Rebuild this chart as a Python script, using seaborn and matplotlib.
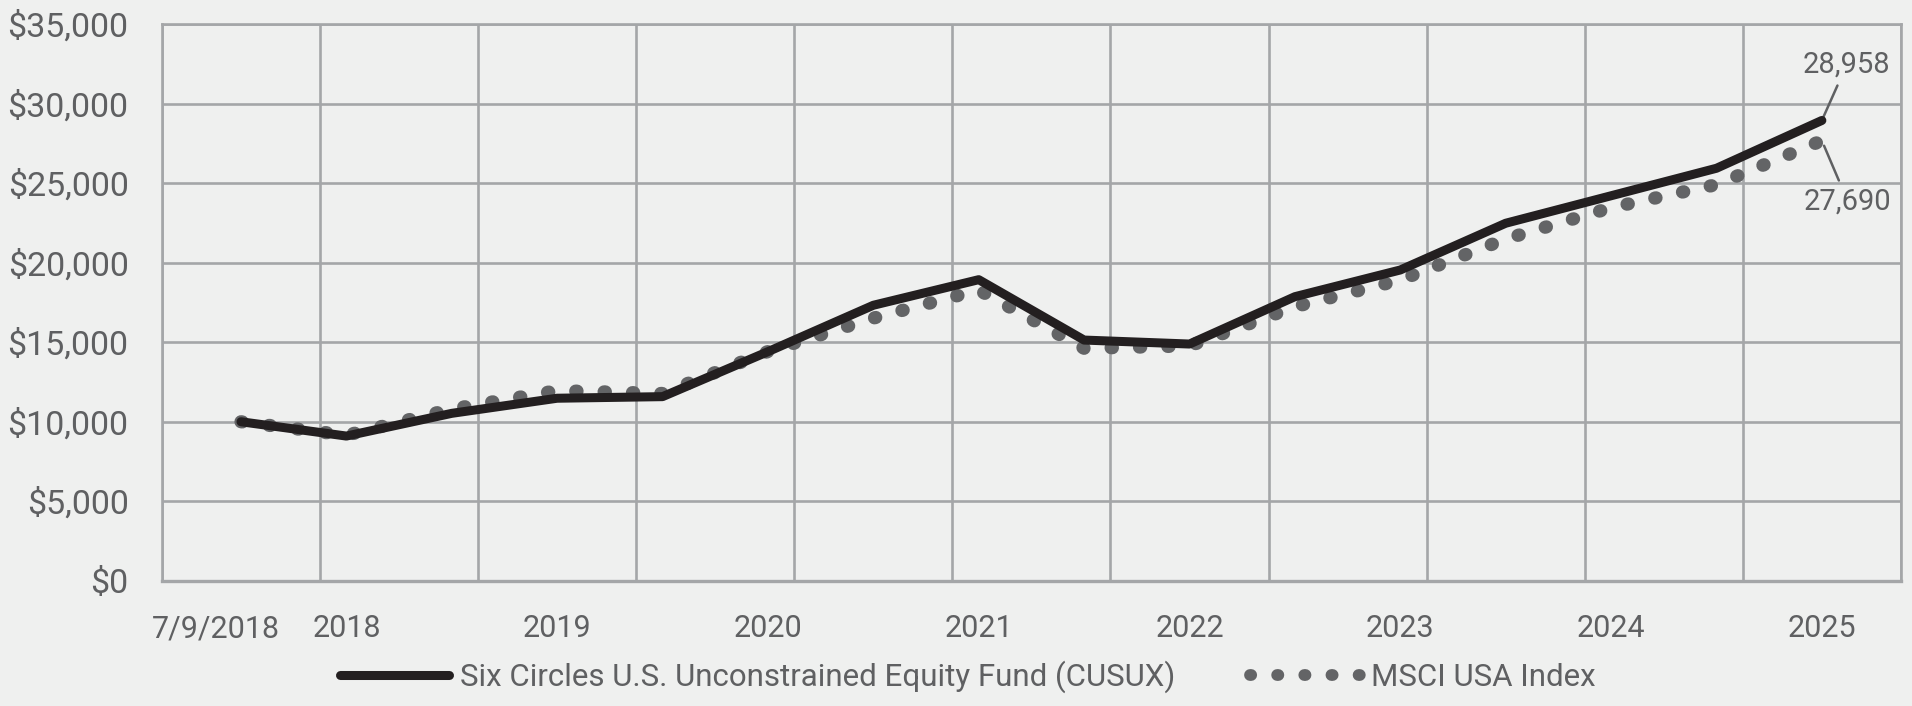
"""Growth of $10,000: Six Circles U.S. Unconstrained Equity Fund vs MSCI USA Index."""

import matplotlib.pyplot as plt
import matplotlib.transforms as mtransforms
import numpy as np
import pandas as pd
import seaborn as sns
from matplotlib.lines import Line2D
from matplotlib.ticker import FixedLocator, FuncFormatter

# semi-annual points, inception (7/9/2018) to 12/31/2025
periods = [
    "7/9/2018", "Dec 2018", "Jun 2019", "Dec 2019", "Jun 2020", "Dec 2020",
    "Jun 2021", "Dec 2021", "Jun 2022", "Dec 2022", "Jun 2023", "Dec 2023",
    "Jun 2024", "Dec 2024", "Jun 2025", "Dec 2025",
]
fund_values = [
    10000, 9100, 10530, 11480, 11580, 14410, 17330, 18940,
    15140, 14890, 17870, 19550, 22490, 24220, 25950, 28958,
]
index_values = [
    10000, 9150, 10800, 11960, 11780, 14420, 16520, 18290,
    14620, 14770, 17240, 18920, 21500, 23470, 24920, 27690,
]

# which periods carry an axis label, and the text shown
label_periods = [
    "7/9/2018", "Dec 2018", "Dec 2019", "Dec 2020", "Dec 2021",
    "Dec 2022", "Dec 2023", "Dec 2024", "Dec 2025",
]
label_texts = ["7/9/2018", "2018", "2019", "2020", "2021", "2022", "2023", "2024", "2025"]

FUND_NAME = "Six Circles U.S. Unconstrained Equity Fund (CUSUX)"
INDEX_NAME = "MSCI USA Index"

BG = "#eff0ef"
GRID = "#a4a6a8"
TEXT = "#5f6062"
FUND_COLOR = "#231f20"
INDEX_COLOR = "#636466"

sns.set_theme(style="white")
plt.rcParams["font.family"] = ["Roboto", "DejaVu Sans"]

df = pd.DataFrame({
    "period": periods,
    "pos": np.arange(len(periods)),
    "fund": fund_values,
    "index": index_values,
})

fig = plt.figure(figsize=(19.12, 7.06), dpi=100, facecolor=BG)
ax = fig.add_axes([0.0847, 0.1775, 0.9095, 0.7879])
ax.set_facecolor(BG)

# round dots: very short dashes with round caps
sns.lineplot(
    data=df, x="pos", y="index", ax=ax, color=INDEX_COLOR, linewidth=9.5,
    linestyle=(0, (0.1, 2.05)), dash_capstyle="round", legend=False, zorder=3,
)
sns.lineplot(
    data=df, x="pos", y="fund", ax=ax, color=FUND_COLOR, linewidth=6.5,
    solid_capstyle="round", solid_joinstyle="round", legend=False, zorder=4,
)

# axes limits and grid
ax.set_xlim(-0.75, len(periods) - 0.25)
ax.set_ylim(0, 35000)
ax.yaxis.set_major_locator(FixedLocator(np.arange(0, 35001, 5000)))
ax.yaxis.set_major_formatter(FuncFormatter(lambda v, _: f"${v:,.0f}"))
ax.xaxis.set_minor_locator(FixedLocator(np.linspace(-0.75, len(periods) - 0.25, 12)))
ax.set_xticks([periods.index(p) for p in label_periods])
ax.set_xticklabels(label_texts)

ax.grid(axis="y", which="major", color=GRID, linewidth=1.9)
ax.grid(axis="x", which="minor", color=GRID, linewidth=1.9)
ax.grid(axis="x", which="major", visible=False)
ax.tick_params(axis="both", which="both", length=0, labelcolor=TEXT)
ax.tick_params(axis="x", which="major", pad=24, labelsize=22)
ax.tick_params(axis="y", which="major", pad=24, labelsize=24.5)
for side, spine in ax.spines.items():
    spine.set_visible(True)
    spine.set_color(GRID)
    spine.set_linewidth(2.4 if side == "bottom" else 1.9)
ax.set_xlabel("")
ax.set_ylabel("")

# nudge the inception date label left, like the original
first = ax.get_xticklabels()[0]
first.set_transform(first.get_transform()
                    + mtransforms.ScaledTranslation(-0.25, 0, fig.dpi_scale_trans))

# end-value callouts
ax.annotate(
    f"{fund_values[-1]:,}", xy=(len(periods) - 1, fund_values[-1]),
    xytext=(25, 56), textcoords="offset pixels", ha="center", va="center",
    fontsize=21, color=TEXT,
    arrowprops=dict(arrowstyle="-", color=TEXT, lw=1.8, shrinkA=3, shrinkB=0),
)
ax.annotate(
    f"{index_values[-1]:,}", xy=(len(periods) - 1, index_values[-1]),
    xytext=(26, -61), textcoords="offset pixels", ha="center", va="center",
    fontsize=21, color=TEXT,
    arrowprops=dict(arrowstyle="-", color=TEXT, lw=1.8, shrinkA=3, shrinkB=4),
)

handles = [
    Line2D([], [], color=FUND_COLOR, linewidth=6.5, solid_capstyle="round"),
    Line2D([], [], color=INDEX_COLOR, linewidth=8.5, linestyle=(0, (0.1, 2.2)),
           dash_capstyle="round"),
]
fig.legend(
    handles, [FUND_NAME, INDEX_NAME], loc="center", bbox_to_anchor=(0.506, 0.041),
    ncol=2, frameon=False, fontsize=22.5, labelcolor=TEXT, handlelength=3.5,
    handletextpad=0.35, columnspacing=2.4,
)

fig.savefig("out.png", dpi=100, facecolor=BG)
